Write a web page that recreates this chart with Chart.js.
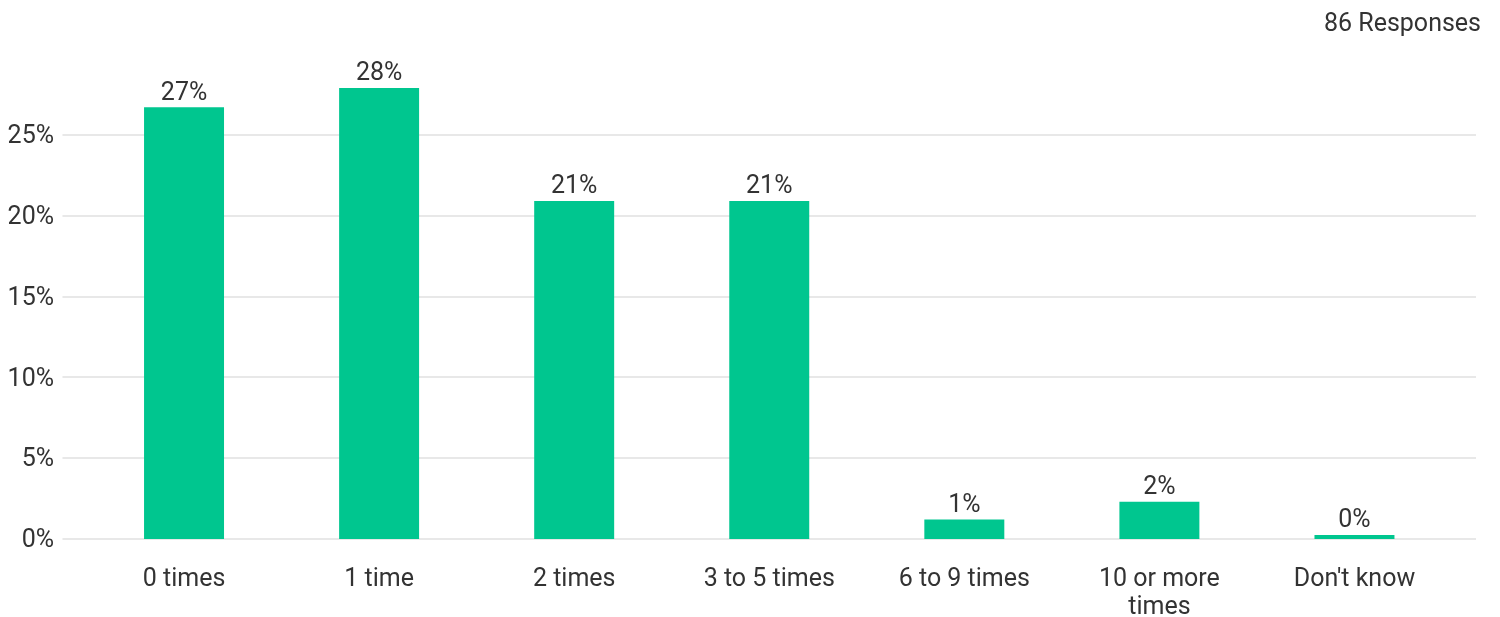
<!DOCTYPE html>
<html>
<head>
<meta charset="utf-8">
<script src="https://cdn.jsdelivr.net/npm/chart.js@4/dist/chart.umd.min.js"></script>
<style>
  html, body { margin: 0; padding: 0; background: #fff; }
  #wrap { width: 1500px; height: 617px; }
</style>
</head>
<body>
<div id="wrap"><canvas id="chart" width="1500" height="617"></canvas></div>
<script>
// Data
const categories = ["0 times", "1 time", "2 times", "3 to 5 times", "6 to 9 times", "10 or more times", "Don't know"];
const percents = [26.7, 27.9, 20.9, 20.9, 1.2, 2.3, 0];
const yTicks = [0, 5, 10, 15, 20, 25];
const responseCount = 86;

const BAR = "#00c68f";
const TEXT = "#333333";
const GRID = "#e8e8e8";
const FONT = "Roboto, 'Noto Sans', sans-serif";

// wrap long category names onto two lines
function wrap(label, max) {
  if (label.length <= max) return label;
  const words = label.split(" ");
  const lines = [];
  let cur = "";
  words.forEach((w) => {
    if (cur && (cur + " " + w).length > max) { lines.push(cur); cur = w; }
    else cur = cur ? cur + " " + w : w;
  });
  lines.push(cur);
  return lines;
}

// gridlines that run a bit past the bars, plus value labels and the response count
const extras = {
  id: "extras",
  beforeDatasetsDraw(chart) {
    const { ctx, chartArea, scales } = chart;
    ctx.save();
    ctx.strokeStyle = GRID;
    ctx.lineWidth = 2;
    yTicks.forEach((t) => {
      const y = Math.round(scales.y.getPixelForValue(t));
      ctx.beginPath();
      ctx.moveTo(chartArea.left - 24, y);
      ctx.lineTo(chartArea.right + 24, y);
      ctx.stroke();
    });
    ctx.restore();
  },
  afterDatasetsDraw(chart) {
    const { ctx } = chart;
    const meta = chart.getDatasetMeta(0);
    ctx.save();
    ctx.fillStyle = TEXT;
    ctx.font = "25px " + FONT;
    ctx.textAlign = "center";
    ctx.textBaseline = "middle";
    meta.data.forEach((bar, i) => {
      ctx.fillText(Math.round(percents[i]) + "%", bar.x, bar.y - 14);
    });
    ctx.textAlign = "right";
    ctx.fillText(responseCount + " Responses", 1481, 25);
    ctx.restore();
  }
};

new Chart(document.getElementById("chart"), {
  type: "bar",
  data: {
    labels: categories,
    datasets: [{
      data: percents,
      backgroundColor: BAR,
      barPercentage: 0.41,
      categoryPercentage: 1,
      minBarLength: 4
    }]
  },
  options: {
    responsive: false,
    animation: false,
    devicePixelRatio: 1,
    layout: { padding: { top: 54, right: 48, left: 0, bottom: 0 } },
    plugins: { legend: { display: false }, tooltip: { enabled: false } },
    scales: {
      x: {
        grid: { display: false, drawTicks: false },
        border: { display: false },
        ticks: {
          color: TEXT,
          font: { family: FONT, size: 25, lineHeight: 1.12 },
          padding: 27,
          maxRotation: 0,
          autoSkip: false,
          callback: function (v) { return wrap(categories[v], 12); }
        },
        afterFit: (s) => { s.height = 78; }
      },
      y: {
        min: 0,
        max: 30,
        grid: { display: false, drawTicks: false },
        border: { display: false },
        afterBuildTicks: (s) => { s.ticks = yTicks.map((v) => ({ value: v })); },
        afterFit: (s) => { s.width = 86.5; },
        ticks: {
          color: TEXT,
          font: { family: FONT, size: 25 },
          padding: 32.5,
          labelOffset: 2,
          callback: (v) => v + "%"
        }
      }
    }
  },
  plugins: [extras]
});
</script>
</body>
</html>
